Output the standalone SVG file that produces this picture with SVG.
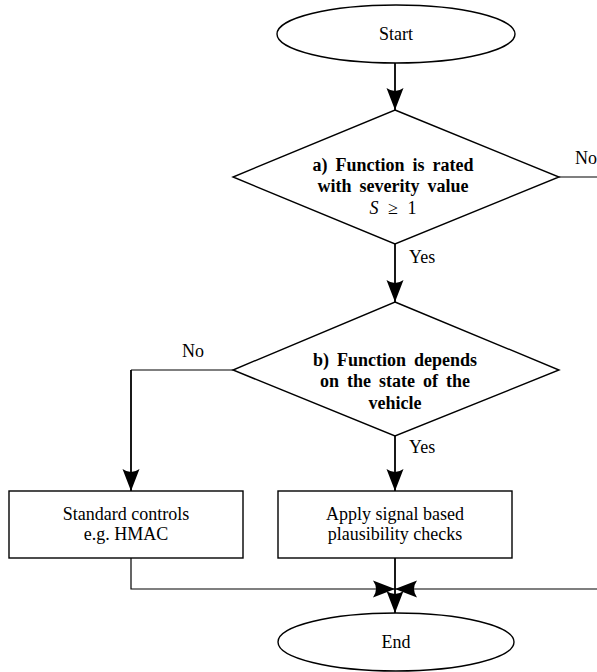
<svg xmlns="http://www.w3.org/2000/svg" width="597" height="672" viewBox="0 0 597 672">
<defs>
<style>
.shape{fill:#fff;stroke:#000;stroke-width:1.4}
.t{font-family:"Liberation Serif","Times New Roman",serif;font-size:18px;fill:#000;text-anchor:middle}
.b{font-weight:bold;word-spacing:3.5px}
.lbl{font-family:"Liberation Serif","Times New Roman",serif;font-size:18px;fill:#000}
.v{fill:none;stroke:#000;stroke-width:1.8}
.h{fill:none;stroke:#000;stroke-width:1.2}
</style>
<marker id="arr" viewBox="-23 -10 24 20" refX="0" refY="0" markerWidth="24" markerHeight="20" markerUnits="userSpaceOnUse" orient="auto">
<path d="M0,0 L-22,-8.5 Q-16,0 -22,8.5 Z" fill="#000"/>
</marker>
</defs>
<rect width="597" height="672" fill="#fff"/>
<g id="connectors">
<path class="v" d="M395,63 V110" marker-end="url(#arr)"/>
<path class="v" d="M395,244 V302" marker-end="url(#arr)"/>
<path class="v" d="M395,436 V491" marker-end="url(#arr)"/>
<path class="h" d="M233,370 H131"/>
<path class="v" d="M131,370 V491" marker-end="url(#arr)"/>
<path class="h" d="M559,177 H620 V589 H395" marker-end="url(#arr)"/>
<path class="h" d="M131,558 V589 H395" marker-end="url(#arr)"/>
<path class="v" d="M395,558 V613" marker-end="url(#arr)"/>
<text class="lbl" x="575" y="164">No</text>
<text class="lbl" x="409" y="263">Yes</text>
<text class="lbl" x="182" y="357">No</text>
<text class="lbl" x="409" y="453">Yes</text>
</g>
<g id="start">
<ellipse class="shape" cx="396" cy="34" rx="119" ry="29"/>
<text class="t" x="396" y="40">Start</text>
</g>
<g id="decisionA">
<polygon class="shape" points="395,110 559,177 395,244 233,177"/>
<text class="t b" x="393" y="171">a) Function is rated</text>
<text class="t b" x="393" y="192">with severity value</text>
<text class="t" x="393" y="214" word-spacing="5px"><tspan font-style="italic">S</tspan> ≥ 1</text>
</g>
<g id="decisionB">
<polygon class="shape" points="395,302 559,370 395,436 233,370"/>
<text class="t b" x="395" y="366">b) Function depends</text>
<text class="t b" x="395" y="387">on the state of the</text>
<text class="t b" x="395" y="409">vehicle</text>
</g>
<g id="standard">
<rect class="shape" x="9" y="491" width="234" height="67"/>
<text class="t" x="126" y="520">Standard controls</text>
<text class="t" x="126" y="540">e.g. HMAC</text>
</g>
<g id="plausibility">
<rect class="shape" x="278" y="491" width="234" height="67"/>
<text class="t" x="395" y="520">Apply signal based</text>
<text class="t" x="395" y="540">plausibility checks</text>
</g>
<g id="end">
<ellipse class="shape" cx="396" cy="642" rx="118" ry="29"/>
<text class="t" x="396" y="648">End</text>
</g>
</svg>
